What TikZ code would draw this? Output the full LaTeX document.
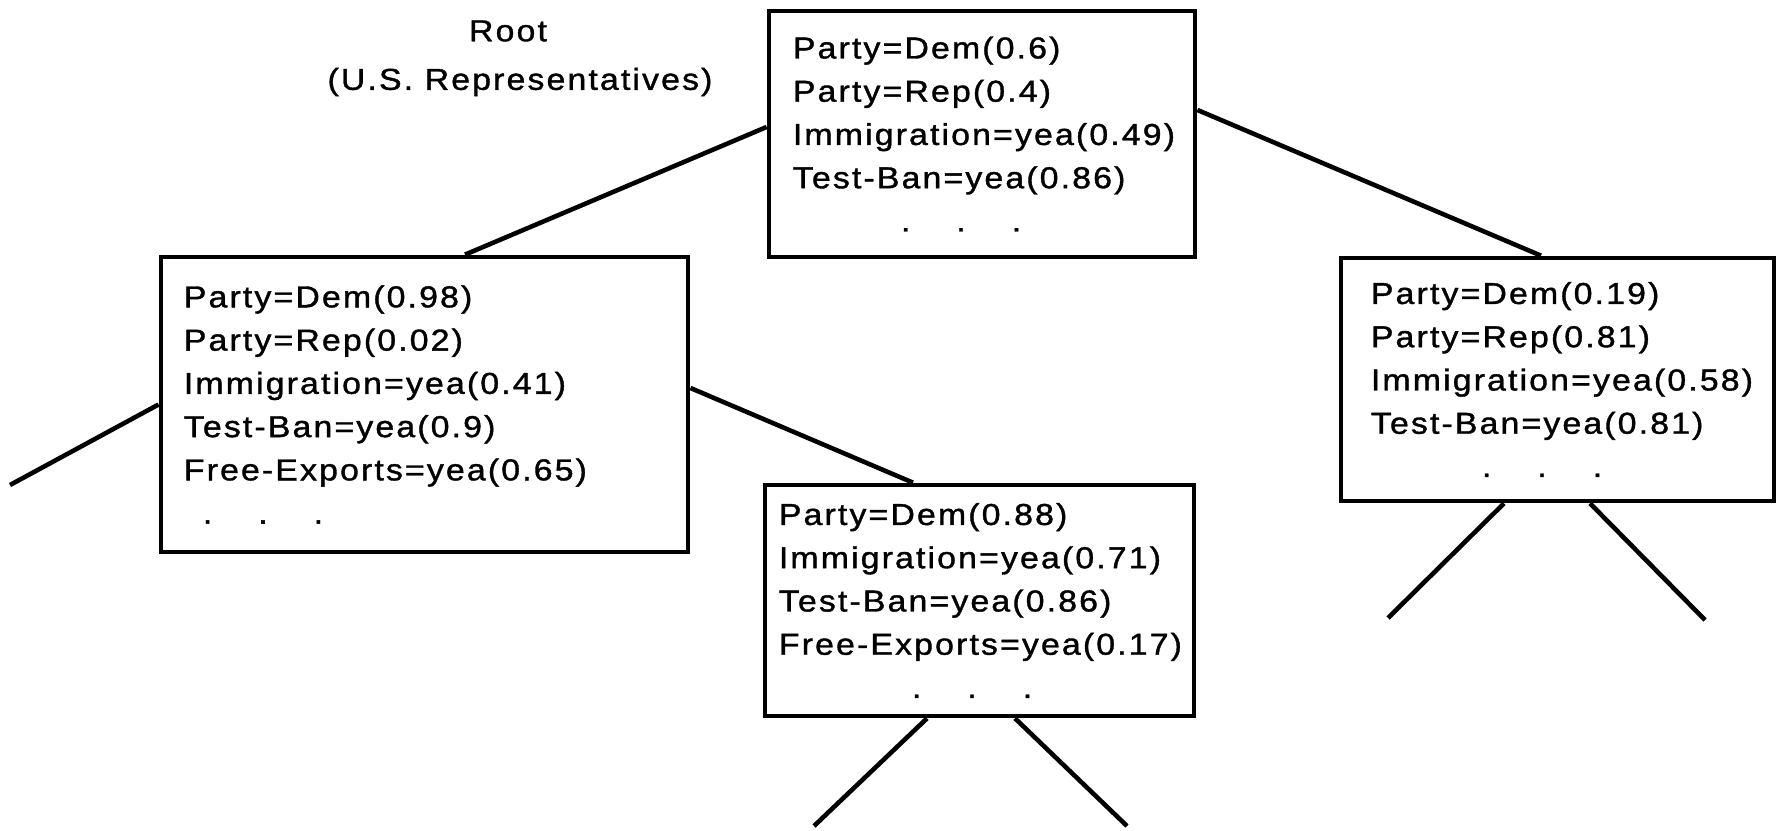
\documentclass[tikz,border=0pt]{standalone}
\usepackage{fontspec}
\setmainfont{Liberation Sans}[FakeStretch=1.12,LetterSpace=7,FakeBold=1.2]
\hyphenpenalty=10000
\exhyphenpenalty=10000
\newcommand{\moredots}[1]{\hspace*{#1}.\hspace{0.46cm}.\hspace{0.46cm}.}

\begin{document}
\begin{tikzpicture}[x=0.01cm, y=-0.01cm]
    \tikzset{
        every node/.style={font=\fontsize{8.6pt}{12.3pt}\selectfont},
        votebox/.style={draw, line width=1.3pt, align=left, inner ysep=0pt},
        branch/.style={line width=1.3pt}
    }
    \useasboundingbox (0,0) rectangle (1779,830);

    % caption of the root
    \node (roottitle) at (508,31) {Root};
    \node (rootnote) at (520,82) {(U.S.\ Representatives)};

    % clusters
    \node [votebox, text width=3.78cm, inner xsep=0.24cm, minimum height=2.46cm] (root) at (982,134)
        {Party=Dem(0.6)\\Party=Rep(0.4)\\Immigration=yea(0.49)\\Test-Ban=yea(0.86)\\\moredots{1.08cm}};
    \node [votebox, text width=4.81cm, inner xsep=0.23cm, minimum height=2.95cm] (dem) at (424.5,404.5)
        {Party=Dem(0.98)\\Party=Rep(0.02)\\Immigration=yea(0.41)\\Test-Ban=yea(0.9)\\Free-Exports=yea(0.65)\\\moredots{0.19cm}};
    \node [votebox, text width=4.01cm, inner xsep=0.14cm, minimum height=2.31cm] (sub) at (979.5,600.5)
        {Party=Dem(0.88)\\Immigration=yea(0.71)\\Test-Ban=yea(0.86)\\Free-Exports=yea(0.17)\\\moredots{1.33cm}};
    \node [votebox, text width=3.73cm, inner xsep=0.30cm, minimum height=2.43cm] (rep) at (1557.5,379.5)
        {Party=Dem(0.19)\\Party=Rep(0.81)\\Immigration=yea(0.58)\\Test-Ban=yea(0.81)\\\moredots{1.11cm}};

    % loose ends of the tree
    \coordinate (demleaf) at (10,485);
    \coordinate (subleafA) at (814,826);
    \coordinate (subleafB) at (1127,826);
    \coordinate (repleafA) at (1388,618);
    \coordinate (repleafB) at (1705,620);

    \draw [branch] ([yshift=0.07cm]root.west) -- ([xshift=0.405cm]dem.north);
    \draw [branch] ([yshift=0.24cm]root.east) -- ([xshift=-0.165cm]rep.north);
    \draw [branch] ([yshift=0.165cm]dem.east) -- ([xshift=-0.665cm]sub.north);
    \draw [branch] (dem.west) -- (demleaf);

    \foreach \n/\s/\leaf in {sub/-0.525/subleafA, sub/0.355/subleafB, rep/-0.535/repleafA, rep/0.325/repleafB} {
        \draw [branch] ([xshift=\s cm]\n.south) -- (\leaf);
    }

\end{tikzpicture}
\end{document}
